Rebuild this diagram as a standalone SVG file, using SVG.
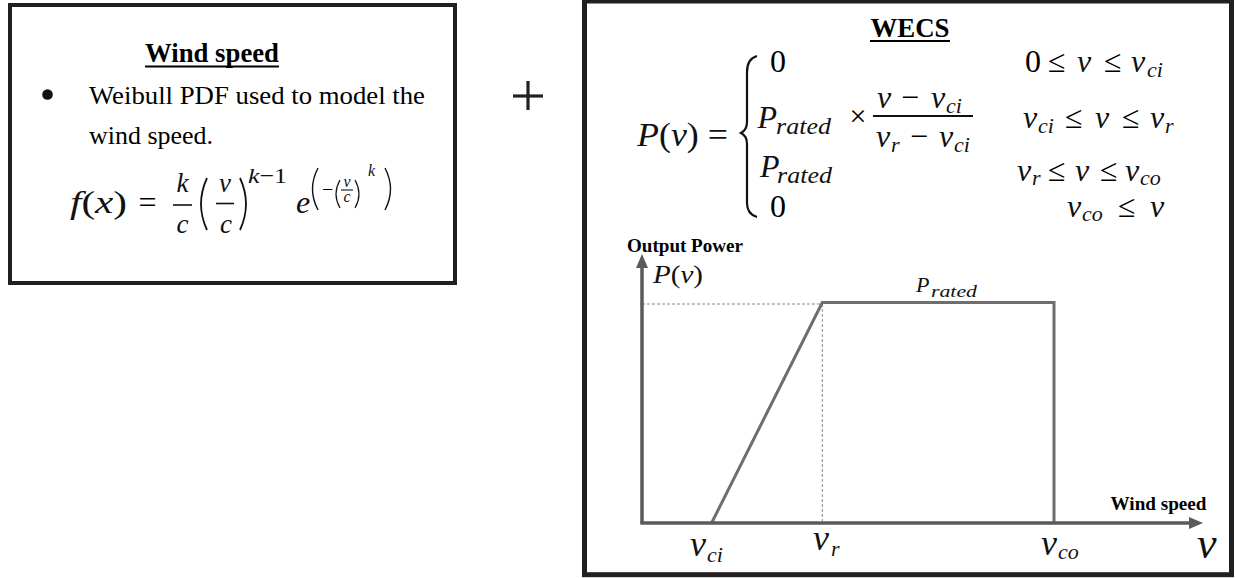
<svg xmlns="http://www.w3.org/2000/svg" width="1235" height="578" viewBox="0 0 1235 578">
<defs>
<style>
.frame{fill:#fff;stroke:#231f20}
.t{font-family:"Liberation Serif",serif;fill:#000}
.b{font-weight:bold}
.m{font-family:"Liberation Serif",serif;font-style:italic;fill:#111}
.u{font-style:normal}
.ln{stroke:#111;fill:none}
.ax{stroke:#5a5a5a;stroke-width:3.5;fill:none}
.cv{stroke:#6e6e6e;stroke-width:3;fill:none}
.dash{stroke:#8a8a8a;stroke-width:1;stroke-dasharray:3 2;fill:none}
</style>
<marker id="arrow" viewBox="0 0 14 12" refX="10" refY="6" markerWidth="14" markerHeight="12" markerUnits="userSpaceOnUse" orient="auto">
<path d="M0,0 L14,6 L0,12 z" fill="#5a5a5a"/>
</marker>
</defs>
<rect width="1235" height="578" fill="#fff"/>

<g id="wind-speed-box">
<rect class="frame" x="10" y="5" width="445" height="278" stroke-width="4"/>
<text class="t b" x="145" y="62" font-size="27" textLength="134" lengthAdjust="spacingAndGlyphs">Wind speed</text>
<line x1="145" y1="66.5" x2="279" y2="66.5" stroke="#000" stroke-width="2.2"/>
<circle cx="47.5" cy="94.5" r="5.3" fill="#111"/>
<text class="t" x="89" y="104" font-size="26" textLength="336" lengthAdjust="spacingAndGlyphs">Weibull PDF used to model the</text>
<text class="t" x="89" y="144" font-size="26" textLength="124" lengthAdjust="spacingAndGlyphs">wind speed.</text>
<text class="m" x="70" y="213" font-size="32" textLength="57" lengthAdjust="spacingAndGlyphs">f<tspan class="u">(</tspan>x<tspan class="u">)</tspan></text>
<text class="t" x="147.5" y="213" font-size="32" text-anchor="middle">=</text>
<text class="m" x="182.5" y="191.5" font-size="27" text-anchor="middle">k</text>
<line class="ln" x1="173" y1="205" x2="192" y2="205" stroke-width="1.6"/>
<text class="m" x="182.5" y="232.5" font-size="27" text-anchor="middle">c</text>
<path class="ln" d="M207 178 Q195 204 207 230" stroke-width="1.8"/>
<text class="m" x="225" y="191.5" font-size="27" text-anchor="middle">v</text>
<line class="ln" x1="216" y1="203.5" x2="234" y2="203.5" stroke-width="1.6"/>
<text class="m" x="226" y="232.5" font-size="27" text-anchor="middle">c</text>
<path class="ln" d="M240 178 Q252 204 240 230" stroke-width="1.8"/>
<text class="m" x="248" y="183" font-size="22" textLength="39" lengthAdjust="spacingAndGlyphs">k<tspan class="u">−1</tspan></text>
<text class="m" x="296" y="213" font-size="32">e</text>
<path class="ln" d="M318 168 Q307 189 318 210" stroke-width="1.4"/>
<text class="t" x="322" y="196" font-size="20">−</text>
<path class="ln" d="M340 180 Q332 194 340 208" stroke-width="1.2"/>
<text class="m" x="347" y="187" font-size="16" text-anchor="middle">v</text>
<line class="ln" x1="341" y1="190" x2="353" y2="190" stroke-width="1.1"/>
<text class="m" x="347" y="202" font-size="16" text-anchor="middle">c</text>
<path class="ln" d="M355 180 Q363 194 355 208" stroke-width="1.2"/>
<text class="m" x="368" y="176" font-size="16">k</text>
<path class="ln" d="M385 168 Q396 189 385 210" stroke-width="1.4"/>
</g>

<g id="plus">
<line x1="528" y1="81" x2="528" y2="110" stroke="#231f20" stroke-width="3.2"/>
<line x1="513" y1="96" x2="543" y2="96" stroke="#231f20" stroke-width="3.2"/>
</g>

<g id="wecs-box">
<rect class="frame" x="584.5" y="1" width="647" height="573.7" stroke-width="5"/>
<text class="t b" x="870.5" y="37" font-size="27" textLength="79" lengthAdjust="spacingAndGlyphs">WECS</text>
<line x1="870" y1="41" x2="950" y2="41" stroke="#000" stroke-width="2.2"/>
<text class="m" x="637" y="146" font-size="34" textLength="91" lengthAdjust="spacingAndGlyphs">P<tspan class="u">(</tspan>v<tspan class="u">) =</tspan></text>
<path class="ln" d="M757 56 C750 58 747 63 747 72 L747 122 C747 128 745 131 741 133 C745 135 747 138 747 144 L747 203 C747 211 750 215 757 217" stroke-width="2.2"/>
<!-- row 1 -->
<text class="t" x="770" y="72" font-size="32">0</text>
<text class="t" x="1025" y="72" font-size="32">0</text>
<text class="t" x="1048" y="72" font-size="32">≤</text>
<text class="m" x="1077" y="72" font-size="32">v</text>
<text class="t" x="1104" y="72" font-size="32">≤</text>
<text class="m" x="1131" y="72" font-size="32">v</text>
<text class="m" x="1147" y="77" font-size="22">ci</text>
<!-- row 2 -->
<text class="m" x="757.5" y="128" font-size="32">P</text>
<text class="m" x="776" y="134" font-size="24" textLength="55" lengthAdjust="spacingAndGlyphs">rated</text>
<text class="t" x="858" y="126" font-size="30" text-anchor="middle">×</text>
<text class="m" x="877" y="108" font-size="32">v</text>
<text class="t" x="901" y="108" font-size="32">−</text>
<text class="m" x="931" y="108" font-size="32">v</text>
<text class="m" x="946" y="113" font-size="22">ci</text>
<line class="ln" x1="873" y1="116" x2="973" y2="116" stroke-width="1.8"/>
<text class="m" x="876" y="146.5" font-size="32">v</text>
<text class="m" x="891" y="151.5" font-size="22">r</text>
<text class="t" x="910" y="146.5" font-size="32">−</text>
<text class="m" x="939" y="146.5" font-size="32">v</text>
<text class="m" x="954" y="151.5" font-size="22">ci</text>
<text class="m" x="1023" y="128" font-size="32">v</text>
<text class="m" x="1038" y="133" font-size="22">ci</text>
<text class="t" x="1065" y="128" font-size="32">≤</text>
<text class="m" x="1095" y="128" font-size="32">v</text>
<text class="t" x="1122" y="128" font-size="32">≤</text>
<text class="m" x="1150" y="128" font-size="32">v</text>
<text class="m" x="1165" y="133" font-size="22">r</text>
<!-- row 3 -->
<text class="m" x="760" y="177" font-size="32">P</text>
<text class="m" x="777" y="183" font-size="24" textLength="55" lengthAdjust="spacingAndGlyphs">rated</text>
<text class="m" x="1017" y="181" font-size="32">v</text>
<text class="m" x="1032" y="185" font-size="22">r</text>
<text class="t" x="1048" y="181" font-size="32">≤</text>
<text class="m" x="1075" y="181" font-size="32">v</text>
<text class="t" x="1100" y="181" font-size="32">≤</text>
<text class="m" x="1125" y="181" font-size="32">v</text>
<text class="m" x="1140" y="185" font-size="22">co</text>
<!-- row 4 -->
<text class="t" x="770" y="217" font-size="32">0</text>
<text class="m" x="1067" y="217" font-size="32">v</text>
<text class="m" x="1082" y="221" font-size="22">co</text>
<text class="t" x="1118" y="217" font-size="32">≤</text>
<text class="m" x="1150" y="217" font-size="32">v</text>
</g>

<g id="power-curve-chart">
<line class="dash" x1="642" y1="304" x2="822" y2="304"/>
<line class="dash" x1="822.3" y1="304" x2="822.3" y2="523"/>
<polyline class="cv" points="711.6,523 822.3,302.5 1054,302.5 1054,523"/>
<text class="t b" x="627" y="251.5" font-size="18" textLength="116" lengthAdjust="spacingAndGlyphs">Output Power</text>
<text class="m" x="653" y="283" font-size="26" textLength="50" lengthAdjust="spacingAndGlyphs">P<tspan class="u">(</tspan>v<tspan class="u">)</tspan></text>
<text class="m" x="916" y="291.5" font-size="22">P</text>
<text class="m" x="931" y="296.5" font-size="16" textLength="46" lengthAdjust="spacingAndGlyphs">rated</text>
<text class="t b" x="1110.5" y="510" font-size="19" textLength="96" lengthAdjust="spacingAndGlyphs">Wind speed</text>
<text class="m" x="690" y="556" font-size="36">v</text>
<text class="m" x="707" y="562" font-size="22">ci</text>
<text class="m" x="813" y="550" font-size="36">v</text>
<text class="m" x="831" y="556" font-size="22">r</text>
<text class="m" x="1041" y="555" font-size="36">v</text>
<text class="m" x="1058" y="559" font-size="22">co</text>
<text class="m" x="1197" y="558" font-size="44">v</text>
</g>

<g id="connectors">
<line class="ax" x1="642" y1="523" x2="642" y2="258" marker-end="url(#arrow)"/>
<line class="ax" x1="640.3" y1="523" x2="1199" y2="523" marker-end="url(#arrow)"/>
</g>
</svg>
